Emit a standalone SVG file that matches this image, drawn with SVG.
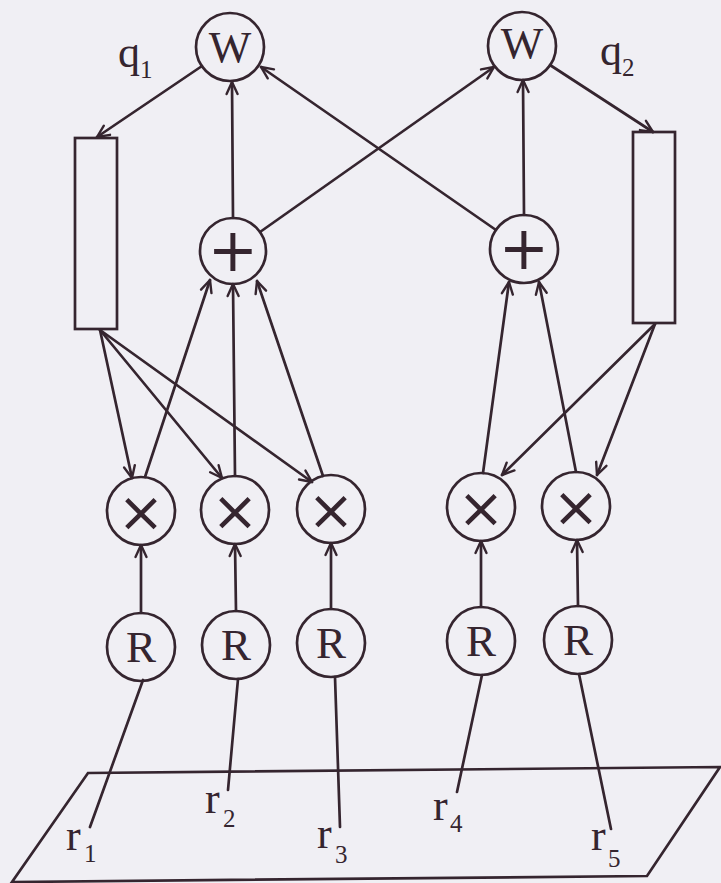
<svg xmlns="http://www.w3.org/2000/svg" width="721" height="883" viewBox="0 0 721 883">
<defs>
<style>
.ln{stroke:#35252f;stroke-width:2.7;fill:none;stroke-linecap:round}
.nd{stroke:#35252f;stroke-width:2.7;fill:none}
.lbl{font-family:"Liberation Serif","Times New Roman",serif;fill:#35252f}
.big{font-size:45px;text-anchor:middle}
.var{font-size:44px}
.sub{font-size:25px}
.op{font-family:"DejaVu Sans","Liberation Sans",sans-serif;fill:#35252f;text-anchor:middle}
</style>
<marker id="ah" viewBox="-14 -8 16 16" refX="0" refY="0" markerWidth="16" markerHeight="16" markerUnits="userSpaceOnUse" orient="auto">
<path d="M-12,-5.5 L0,0 L-12,5.5" fill="none" stroke="#35252f" stroke-width="2.4" stroke-linecap="round" stroke-linejoin="round"/>
</marker>
</defs>
<rect x="0" y="0" width="721" height="883" fill="#f0eff4"/>

<g id="plane">
<path class="nd" d="M88,773 L720,767 L647,876 L12,882 Z"/>
</g>

<g id="connectors">
<line class="ln" x1="202" y1="66" x2="97" y2="137" marker-end="url(#ah)"/>
<line class="ln" x1="233" y1="218" x2="232" y2="82" marker-end="url(#ah)"/>
<line class="ln" x1="524" y1="215" x2="523" y2="80" marker-end="url(#ah)"/>
<line class="ln" x1="496" y1="230" x2="261" y2="67" marker-end="url(#ah)"/>
<line class="ln" x1="260" y1="232" x2="494" y2="67" marker-end="url(#ah)"/>
<line class="ln" x1="550" y1="65" x2="653" y2="132" marker-end="url(#ah)"/>
<line class="ln" x1="100" y1="330" x2="132" y2="478" marker-end="url(#ah)"/>
<line class="ln" x1="100" y1="330" x2="222" y2="478" marker-end="url(#ah)"/>
<line class="ln" x1="100" y1="330" x2="312" y2="482" marker-end="url(#ah)"/>
<line class="ln" x1="145" y1="477" x2="210" y2="280" marker-end="url(#ah)"/>
<line class="ln" x1="235" y1="476" x2="233" y2="284" marker-end="url(#ah)"/>
<line class="ln" x1="323" y1="476" x2="257" y2="281" marker-end="url(#ah)"/>
<line class="ln" x1="483" y1="473" x2="509" y2="282" marker-end="url(#ah)"/>
<line class="ln" x1="576" y1="472" x2="539" y2="282" marker-end="url(#ah)"/>
<line class="ln" x1="655" y1="324" x2="502" y2="475" marker-end="url(#ah)"/>
<line class="ln" x1="655" y1="324" x2="597" y2="475" marker-end="url(#ah)"/>
<line class="ln" x1="141" y1="613" x2="141" y2="545" marker-end="url(#ah)"/>
<line class="ln" x1="236" y1="611" x2="235" y2="544" marker-end="url(#ah)"/>
<line class="ln" x1="331" y1="609" x2="331" y2="543" marker-end="url(#ah)"/>
<line class="ln" x1="481" y1="607" x2="481" y2="541" marker-end="url(#ah)"/>
<line class="ln" x1="578" y1="606" x2="577" y2="540" marker-end="url(#ah)"/>
<line class="ln" x1="143" y1="680" x2="90" y2="827"/>
<line class="ln" x1="238" y1="679" x2="228" y2="790"/>
<line class="ln" x1="335" y1="677" x2="340" y2="827"/>
<line class="ln" x1="482" y1="675" x2="457" y2="792"/>
<line class="ln" x1="579" y1="674" x2="611" y2="829"/>
</g>

<g id="W1"><circle class="nd" cx="230" cy="47" r="34"/><text class="lbl big" x="230" y="62">W</text></g>
<g id="W2"><circle class="nd" cx="522" cy="46" r="34"/><text class="lbl big" x="522" y="58">W</text></g>
<g id="q1"><text class="lbl var" x="118" y="67">q</text><text class="lbl sub" x="140" y="78">1</text></g>
<g id="q2"><text class="lbl var" x="600" y="65">q</text><text class="lbl sub" x="622" y="76">2</text></g>
<g id="rect1"><rect class="nd" x="75" y="138" width="42" height="191"/></g>
<g id="rect2"><rect class="nd" x="633" y="132" width="42" height="191"/></g>
<g id="plus1"><circle class="nd" cx="233" cy="251" r="33"/><text class="op" x="233" y="271" font-size="60">+</text></g>
<g id="plus2"><circle class="nd" cx="524" cy="249" r="34"/><text class="op" x="524" y="269" font-size="60">+</text></g>
<g id="x1"><circle class="nd" cx="141" cy="511" r="34"/><text class="op" x="141" y="531" font-size="56">×</text></g>
<g id="x2"><circle class="nd" cx="235" cy="510" r="34"/><text class="op" x="235" y="530" font-size="56">×</text></g>
<g id="x3"><circle class="nd" cx="331" cy="509" r="34"/><text class="op" x="331" y="529" font-size="56">×</text></g>
<g id="x4"><circle class="nd" cx="481" cy="507" r="34"/><text class="op" x="481" y="527" font-size="56">×</text></g>
<g id="x5"><circle class="nd" cx="576" cy="506" r="34"/><text class="op" x="576" y="526" font-size="56">×</text></g>
<g id="R1"><circle class="nd" cx="141" cy="647" r="34"/><text class="lbl big" x="141" y="662">R</text></g>
<g id="R2"><circle class="nd" cx="236" cy="645" r="34"/><text class="lbl big" x="236" y="660">R</text></g>
<g id="R3"><circle class="nd" cx="331" cy="643" r="34"/><text class="lbl big" x="331" y="658">R</text></g>
<g id="R4"><circle class="nd" cx="481" cy="641" r="34"/><text class="lbl big" x="481" y="656">R</text></g>
<g id="R5"><circle class="nd" cx="578" cy="640" r="34"/><text class="lbl big" x="578" y="655">R</text></g>
<g id="r1"><text class="lbl var" x="66" y="850">r</text><text class="lbl sub" x="84" y="862">1</text></g>
<g id="r2"><text class="lbl var" x="205" y="813">r</text><text class="lbl sub" x="223" y="827">2</text></g>
<g id="r3"><text class="lbl var" x="317" y="848">r</text><text class="lbl sub" x="335" y="863">3</text></g>
<g id="r4"><text class="lbl var" x="433" y="820">r</text><text class="lbl sub" x="450" y="832">4</text></g>
<g id="r5"><text class="lbl var" x="591" y="850">r</text><text class="lbl sub" x="608" y="867">5</text></g>
</svg>
